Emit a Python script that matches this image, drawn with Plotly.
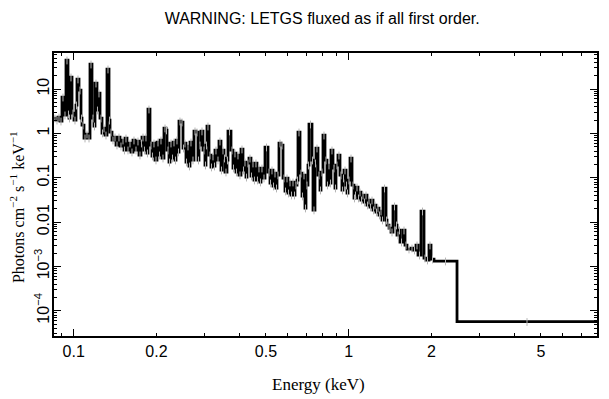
import math
import plotly.graph_objects as go

# ---- data ----
energy_lo = [
    0.08479, 0.08622, 0.08768, 0.08916, 0.09067, 0.09220, 0.09376, 0.09534, 0.09614, 0.09695,
    0.09859, 0.10025, 0.10194, 0.10280, 0.10454, 0.10630, 0.10720, 0.10901, 0.11085, 0.11272,
    0.11463, 0.11656, 0.11853, 0.11952, 0.12154, 0.12256, 0.12464, 0.12674, 0.12781, 0.12996,
    0.13215, 0.13439, 0.13552, 0.13781, 0.14013, 0.14250, 0.14490, 0.14735, 0.14984, 0.15236,
    0.15364, 0.15624, 0.15888, 0.16156, 0.16429, 0.16706, 0.16988, 0.17275, 0.17567, 0.17715,
    0.18013, 0.18164, 0.18471, 0.18626, 0.18941, 0.19261, 0.19423, 0.19753, 0.20086, 0.20426,
    0.20597, 0.20945, 0.21299, 0.21659, 0.21841, 0.22210, 0.22397, 0.22775, 0.22966, 0.23353,
    0.23549, 0.23947, 0.24148, 0.24556, 0.24971, 0.25180, 0.25605, 0.25821, 0.26257, 0.26477,
    0.26925, 0.27379, 0.27841, 0.28312, 0.28550, 0.29032, 0.29522, 0.30020, 0.30273, 0.30527,
    0.31043, 0.31567, 0.31833, 0.32369, 0.32641, 0.33192, 0.33753, 0.34323, 0.34612, 0.35196,
    0.35492, 0.36091, 0.36395, 0.37321, 0.37951, 0.38269, 0.38915, 0.39243, 0.39905, 0.40579,
    0.41265, 0.41611, 0.42314, 0.42670, 0.43391, 0.44123, 0.44495, 0.45244, 0.45624, 0.46395,
    0.46785, 0.47575, 0.47975, 0.48786, 0.49618, 0.50880, 0.51740, 0.52175, 0.53056, 0.53499,
    0.54403, 0.54860, 0.55787, 0.56729, 0.57687, 0.58658, 0.59152, 0.60150, 0.60656, 0.61681,
    0.62200, 0.63249, 0.63781, 0.64858, 0.65403, 0.66508, 0.67631, 0.68200, 0.69349, 0.69933,
    0.71113, 0.71712, 0.73536, 0.74155, 0.75403, 0.76037, 0.77321, 0.78627, 0.79288, 0.80627,
    0.81986, 0.83370, 0.84071, 0.85491, 0.86210, 0.87666, 0.89143, 0.89893, 0.91411, 0.92955,
    0.94525, 0.95320, 0.96141, 0.97765, 0.98587, 0.99416, 1.01095, 1.02803, 1.04537, 1.05416,
    1.06303, 1.08098, 1.09007, 1.10848, 1.11780, 1.13662, 1.14618, 1.16554, 1.17533, 1.19519,
    1.20524, 1.22559, 1.23595, 1.25683, 1.26739, 1.28880, 1.29964, 1.32159, 1.33270, 1.36660,
    1.37809, 1.40136, 1.42503, 1.44910, 1.48590, 1.49839, 1.52370, 1.53652, 1.57560, 1.60214,
    1.62920, 1.68470, 1.71315, 1.75670, 1.78636, 1.83181, 1.87837, 1.91010, 1.95869, 1.99177,
    2.04240, 2.47642,
]
energy_max = 7.995

flux = [
    2.21, 1.99, 2.33, 1.89, 6.58, 2.59, 45.0, 2.72, 2.21, 18.6,
    2.87, 1.99, 4.35, 16.8, 9.47, 2.21, 1.54, 0.783, 0.964, 0.783,
    36.5, 2.21, 1.46, 13.6, 3.35, 8.10, 2.21, 1.02, 1.32, 0.915,
    28.2, 1.99, 1.07, 0.706, 0.825, 0.545, 0.825, 0.517, 0.706, 0.420,
    0.783, 0.420, 0.604, 0.379, 0.706, 0.420, 0.670, 0.324, 0.604, 0.825,
    0.420, 0.825, 0.360, 3.53, 0.545, 0.308, 0.604, 0.250, 0.636, 0.324,
    0.706, 0.277, 1.32, 1.19, 0.420, 0.225, 0.604, 0.277, 0.636, 0.250,
    0.706, 0.379, 1.89, 1.80, 0.466, 0.604, 0.225, 0.517, 0.183, 0.636,
    0.250, 1.13, 1.07, 0.250, 0.545, 1.13, 0.420, 0.193, 0.545, 1.46,
    0.324, 0.174, 0.308, 0.183, 0.420, 0.250, 0.670, 0.149, 0.420, 0.277,
    0.134, 0.250, 1.13, 0.420, 0.165, 0.360, 0.134, 0.324, 0.115, 0.443,
    0.149, 0.225, 0.103, 0.214, 0.277, 0.109, 0.214, 0.0885, 0.214, 0.0885,
    0.165, 0.0798, 0.165, 0.0983, 0.491, 0.134, 0.0757, 0.149, 0.0648, 0.127,
    0.0584, 0.115, 0.604, 0.545, 0.0983, 0.0500, 0.0983, 0.0451, 0.0798, 0.0406,
    0.0798, 0.0406, 0.0683, 0.0885, 1.07, 0.127, 0.0386, 0.115, 0.0207, 0.0683,
    0.193, 1.62, 0.250, 0.0187, 0.214, 0.466, 0.115, 0.0527, 0.134, 0.915,
    0.250, 0.0683, 0.193, 0.0757, 0.420, 0.165, 0.0584, 0.193, 0.324, 0.115,
    0.0527, 0.0983, 0.149, 0.0683, 0.0451, 0.0885, 0.277, 0.0683, 0.0348, 0.0406,
    0.0615, 0.0348, 0.0475, 0.0313, 0.0406, 0.0282, 0.0406, 0.0242, 0.0313, 0.0218,
    0.0313, 0.0187, 0.0242, 0.0168, 0.0207, 0.0144, 0.0177, 0.0111, 0.0584, 0.0111,
    0.00856, 0.00732, 0.00595, 0.0230, 0.00856, 0.00509, 0.00660, 0.00354, 0.00660, 0.00303,
    0.00246, 0.00259, 0.00234, 0.00303, 0.00180, 0.0177, 0.00154, 0.00139, 0.00303, 0.00146,
    0.00132, 5.7e-5,
]

x_range = [0.0848, 7.995]
y_range = [2.7e-5, 65.0]
x_label_ticks = [0.1, 0.2, 0.5, 1, 2, 5]
x_label_text = ["0.1", "0.2", "0.5", "1", "2", "5"]
x_major_ticks = [0.1, 1]
x_minor_ticks = [0.09, 0.2, 0.3, 0.4, 0.5, 0.6, 0.7, 0.8, 0.9, 2, 3, 4, 5, 6, 7]
y_major_ticks = [1e-4, 1e-3, 0.01, 0.1, 1, 10]
y_major_text = ["10<sup>−4</sup>", "10<sup>−3</sup>", "0.01", "0.1", "1", "10"]
y_minor_ticks = [m * 10.0 ** d for d in range(-5, 2) for m in range(2, 10)]

title_text = "WARNING: LETGS fluxed as if all first order."
x_title = "Energy (keV)"
y_title = "Photons cm<sup>−2</sup> s<sup>−1</sup> keV<sup>−1</sup>"

# ---- figure ----
x_step = energy_lo + [energy_max]
y_step = flux + [flux[-1]]
edges_hi = energy_lo[1:] + [energy_max]
centers = [math.sqrt(a * b) for a, b in zip(energy_lo, edges_hi)]

fig = go.Figure()
fig.add_trace(go.Scatter(
    x=centers, y=flux, mode="markers", xaxis="x2", yaxis="y2",
    marker=dict(size=1, color="rgba(0,0,0,0)"),
    error_y=dict(type="percent", value=20, color="#b4b4b4", thickness=1, width=0),
    hoverinfo="skip", showlegend=False,
))
fig.add_trace(go.Scatter(
    x=x_step, y=y_step, mode="lines",
    line=dict(shape="hv", color="black", width=2.8),
    showlegend=False,
))

lx = [math.log10(v) for v in x_range]
ly = [math.log10(v) for v in y_range]
tick_font = dict(family="Liberation Sans, Arial, sans-serif", size=16, color="black")

fig.update_layout(
    width=609, height=399,
    margin=dict(l=54, r=12, t=53, b=63, autoexpand=False),
    paper_bgcolor="white", plot_bgcolor="white",
    title=dict(text=title_text,
               font=dict(family="Liberation Sans, Arial, sans-serif", size=16, color="black"),
               x=0.529, xanchor="center", xref="container",
               y=0.955, yanchor="middle", yref="container", automargin=False),
    xaxis=dict(type="log", range=lx, showgrid=False, zeroline=False, automargin=False,
               tickvals=x_major_ticks, showticklabels=False,
               ticks="inside", ticklen=7, tickwidth=1, tickcolor="black",
               showline=True, linecolor="black", linewidth=1.5, mirror="allticks",
               minor=dict(tickvals=x_minor_ticks, ticks="inside", ticklen=3.5,
                          tickwidth=1, tickcolor="black")),
    xaxis2=dict(type="log", range=lx, overlaying="x", anchor="y", side="bottom",
                showgrid=False, zeroline=False, showline=False, automargin=False,
                tickvals=x_label_ticks, ticktext=x_label_text, ticks="",
                tickfont=tick_font, ticklabelstandoff=4),
    yaxis=dict(type="log", range=ly, showgrid=False, zeroline=False, automargin=False,
               tickvals=y_major_ticks, ticktext=y_major_text, tickangle=-90,
               tickfont=tick_font, ticklabelstandoff=-3,
               ticks="inside", ticklen=7, tickwidth=1, tickcolor="black",
               showline=True, linecolor="black", linewidth=1.5, mirror="allticks",
               minor=dict(tickvals=y_minor_ticks, ticks="inside", ticklen=3.5,
                          tickwidth=1, tickcolor="black")),
    yaxis2=dict(type="log", range=ly, overlaying="y", anchor="x", visible=False),
    annotations=[
        dict(text=x_title, xref="paper", yref="paper", x=0.488, y=-0.170,
             xanchor="center", yanchor="middle", showarrow=False,
             font=dict(family="Liberation Serif, Times New Roman, serif", size=17, color="black")),
        dict(text=y_title, xref="paper", yref="paper", x=-0.068, y=0.456,
             xanchor="center", yanchor="middle", showarrow=False, textangle=-90,
             font=dict(family="Liberation Serif, Times New Roman, serif", size=16, color="black")),
    ],
)

fig.write_html("out.html", config={"displayModeBar": False},
               post_script="document.body.style.margin='0';")
